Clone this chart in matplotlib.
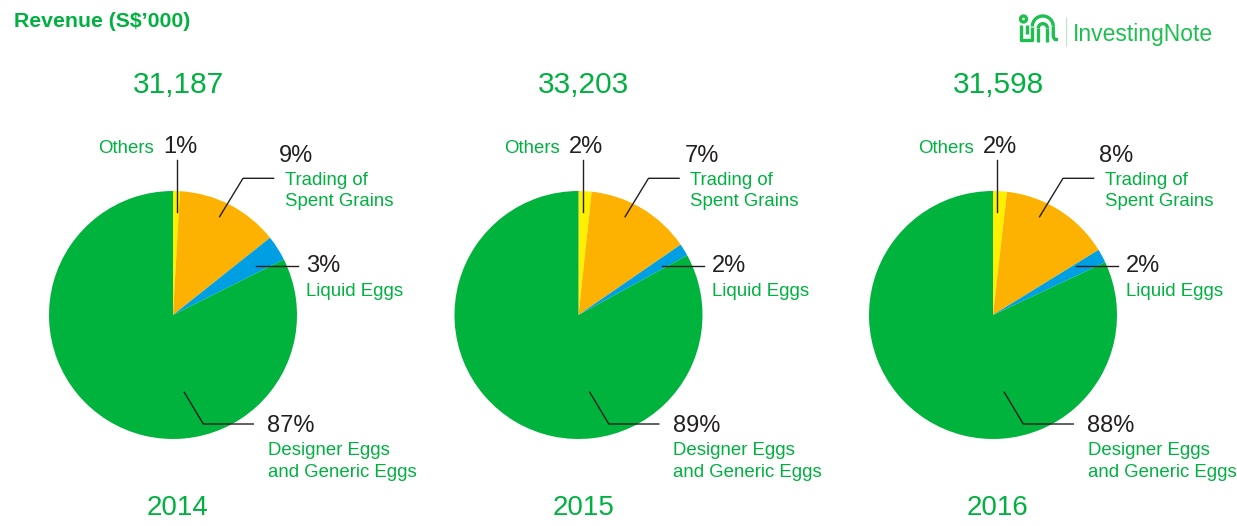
import matplotlib
matplotlib.use("Agg")
import matplotlib.pyplot as plt
from matplotlib.patches import Circle, Arc

# ---------------- data ----------------
years = ["2014", "2015", "2016"]
totals = ["31,187", "33,203", "31,598"]
segments = ["Others", "Trading of\nSpent Grains", "Liquid Eggs",
            "Designer Eggs\nand Generic Eggs"]
pct_labels_2014 = ["1%", "9%", "3%", "87%"]
pct_labels_2015 = ["2%", "7%", "2%", "89%"]
pct_labels_2016 = ["2%", "8%", "2%", "88%"]
# slice shares as drawn in the picture (%)
shares_2014 = [0.9, 13.4, 3.3, 82.4]
shares_2015 = [1.7, 13.7, 1.6, 83.0]
shares_2016 = [1.8, 14.4, 1.8, 82.0]
title = "Revenue (S$\u2019000)"
brand = "InvestingNote"

pct_labels = [pct_labels_2014, pct_labels_2015, pct_labels_2016]
shares = [shares_2014, shares_2015, shares_2016]

# ---------------- style ----------------
W, H = 1237, 526
GREEN = "#00B33C"
TGREEN = "#00B140"
ORANGE = "#FDB100"
BLUE = "#009FE3"
YELLOW = "#FFF000"
DARK = "#231F20"
colors = [YELLOW, ORANGE, BLUE, GREEN]
FONT = "Liberation Sans"

fig = plt.figure(figsize=(W / 100, H / 100), dpi=100)
ax = fig.add_axes([0, 0, 1, 1])

centers_x = [173, 578.5, 993]
cy = H - 315
R = 124


def txt(x, y, s, size, color, ha="left", weight="normal"):
    ax.text(x, y, s, fontsize=size, color=color, ha=ha, va="baseline",
            family=FONT, fontweight=weight, linespacing=1.12)


for i, cx in enumerate(centers_x):
    ax.pie(shares[i], colors=colors, startangle=90, counterclock=False,
           radius=R, center=(cx, cy), frame=True,
           wedgeprops=dict(linewidth=0))
    lab = pct_labels[i]
    # Others
    ax.plot([cx + 4, cx + 4], [cy + 155, cy + 103], color=DARK, lw=1)
    txt(cx - 19, cy + 162, segments[0], 13.4, TGREEN, ha="right")
    txt(cx - 10, cy + 162, lab[0], 17, DARK)
    # Trading
    ax.plot([cx + 46.6, cx + 70, cx + 100.6],
            [cy + 98.3, cy + 136.7, cy + 136.7], color=DARK, lw=1)
    txt(cx + 106, cy + 152.5, lab[1], 17, DARK)
    txt(cx + 112, cy + 130, "Trading of", 13.4, TGREEN)
    txt(cx + 112, cy + 109, "Spent Grains", 13.4, TGREEN)
    # Liquid
    ax.plot([cx + 83, cx + 125.3], [cy + 49, cy + 49], color=DARK, lw=1)
    txt(cx + 133, cy + 42.5, lab[2], 17, DARK)
    txt(cx + 133, cy + 19, segments[2], 13.4, TGREEN)
    # Designer
    ax.plot([cx + 11.3, cx + 30.3, cx + 80.3],
            [cy - 77.3, cy - 109, cy - 109], color=DARK, lw=1)
    txt(cx + 94.5, cy - 116.7, lab[3], 17, DARK)
    txt(cx + 94.5, cy - 140, "Designer Eggs", 13.4, TGREEN)
    txt(cx + 94.5, cy - 162.3, "and Generic Eggs", 13.4, TGREEN)
    # year and total
    txt(cx + 5, cy - 200, years[i], 20, TGREEN, ha="center")
    txt(cx + 5, cy + 221.7, totals[i], 21.5, TGREEN, ha="center")

# title
txt(14, H - 27, title, 15.3, TGREEN, weight="bold")

# logo
lc = "#1DBF4E"
lw = 2.4


def P(px, py):
    return px, H - py


def poly(pts, width=lw, color=lc):
    xs, ys = zip(*[P(*p) for p in pts])
    ax.plot(xs, ys, color=color, lw=width, solid_capstyle="butt",
            solid_joinstyle="round")


ax.add_patch(Circle(P(1023.5, 19), 3.0, fill=False, ec=lc, lw=lw))
poly([(1020.7, 25), (1020.7, 39.5), (1032.3, 39.5), (1032.3, 26.5)])
poly([(1026.5, 25), (1026.5, 34)])
ax.add_patch(Arc(P(1042.8, 26.5), 21, 21, theta1=0, theta2=180,
                 ec=lc, lw=lw))
poly([(1053.3, 26.5), (1053.3, 37), (1055, 39.5), (1058, 39.5)])
poly([(1038.2, 41.5), (1038.2, 28.3)])
poly([(1047.4, 41.5), (1047.4, 28.3)])
ax.add_patch(Arc(P(1042.8, 28.3), 9.2, 9.2, theta1=0, theta2=180,
                 ec=lc, lw=lw))
poly([(1065.5, 17), (1065.5, 46)], width=0.8, color="#B5E8C3")
txt(1073, H - 41, brand, 16.5, lc)

ax.set_xlim(0, W)
ax.set_ylim(0, H)
ax.set_aspect("auto")
ax.axis("off")

fig.savefig("out.png", dpi=100, facecolor="white")
